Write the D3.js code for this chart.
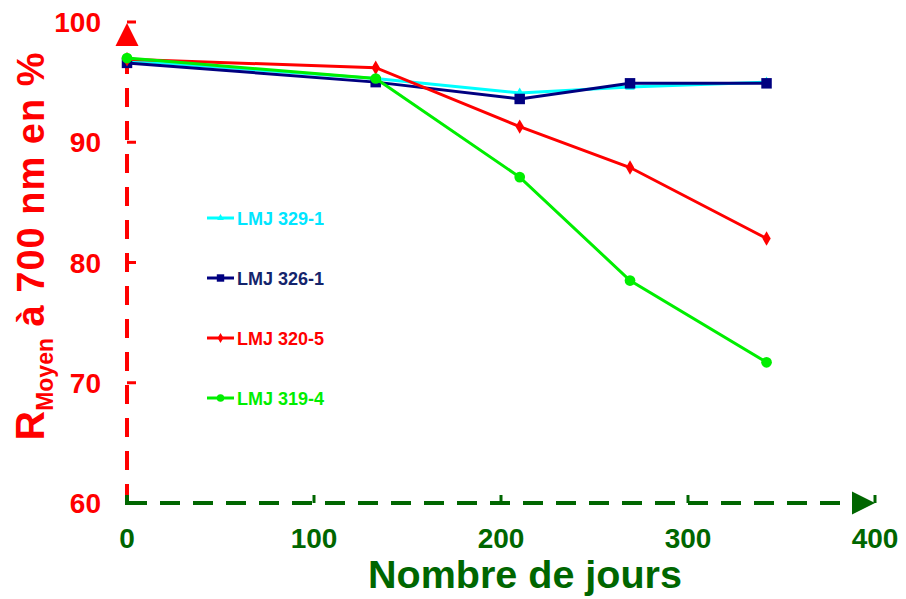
<!DOCTYPE html>
<html>
<head>
<meta charset="utf-8">
<script src="https://cdn.jsdelivr.net/npm/d3@7"></script>
<style>
  body { margin: 0; background: #fff; }
  svg { display: block; font-family: "Liberation Sans", Arial, sans-serif; font-weight: bold; }
</style>
</head>
<body>
<svg id="chart" width="906" height="599"></svg>
<script>
// days of measurement
var days = [0, 133, 210, 269, 342];
// reflectance at 700 nm (%) per sample
var lmj3291 = [96.8, 95.3, 94.1, 94.6, 95.0];
var lmj3261 = [96.6, 95.0, 93.6, 94.9, 94.9];
var lmj3205 = [96.9, 96.2, 91.3, 87.9, 82.0];
var lmj3194 = [97.0, 95.3, 87.1, 78.5, 71.7];
var seriesNames = ['LMJ 329-1', 'LMJ 326-1', 'LMJ 320-5', 'LMJ 319-4'];
var xTicks = [0, 100, 200, 300, 400];
var yTicks = [60, 70, 80, 90, 100];

var series = [
  {name: seriesNames[0], vals: lmj3291, color: '#00ffff', text: '#00e5ff', mark: 'triangle', size: 40},
  {name: seriesNames[1], vals: lmj3261, color: '#000080', text: '#14246c', mark: 'square', size: 110},
  {name: seriesNames[2], vals: lmj3205, color: '#ff0000', text: '#ff0000', mark: 'diamond', size: 60},
  {name: seriesNames[3], vals: lmj3194, color: '#00ee00', text: '#00ee00', mark: 'circle', size: 90}
];

var svg = d3.select('#chart');
var red = '#ff0000', green = '#006600';

var x = d3.scaleLinear().domain([0, 400]).range([127, 875]);
var y = d3.scaleLinear().domain([60, 100]).range([503, 22]);

// y axis (red dashed, arrow on top)
svg.append('line')
  .attr('x1', x(0)).attr('x2', x(0))
  .attr('y1', y(60)).attr('y2', y(100) + 20)
  .attr('stroke', red).attr('stroke-width', 4)
  .attr('stroke-dasharray', '19,14');
svg.selectAll('.ytick').data(yTicks.slice(1)).enter().append('line')
  .attr('x1', x(0)).attr('x2', x(0) + 9)
  .attr('y1', d => y(d)).attr('y2', d => y(d))
  .attr('stroke', red).attr('stroke-width', 3);
svg.append('path')
  .attr('d', 'M' + x(0) + ',' + (y(100) + 1) + ' l-11.5,23 h23 z')
  .attr('fill', red);
svg.selectAll('.ylab').data(yTicks).enter().append('text')
  .attr('x', 101).attr('y', d => y(d) + 10)
  .attr('text-anchor', 'end').attr('font-size', 28).attr('fill', red)
  .text(d => d);

// x axis (green dashed, arrow at right)
svg.append('line')
  .attr('x1', x(0)).attr('x2', x(400) - 22)
  .attr('y1', y(60)).attr('y2', y(60))
  .attr('stroke', green).attr('stroke-width', 4)
  .attr('stroke-dasharray', '20,13');
svg.append('line')
  .attr('x1', x(0)).attr('x2', x(0))
  .attr('y1', y(60) - 8).attr('y2', y(60) + 2)
  .attr('stroke', green).attr('stroke-width', 4);
svg.selectAll('.xtick').data(xTicks.slice(1)).enter().append('line')
  .attr('x1', d => x(d)).attr('x2', d => x(d))
  .attr('y1', y(60) - 8).attr('y2', y(60))
  .attr('stroke', green).attr('stroke-width', 3);
svg.append('path')
  .attr('d', 'M' + x(400) + ',' + y(60) + ' l-23,-11.5 v23 z')
  .attr('fill', green);
svg.selectAll('.xlab').data(xTicks).enter().append('text')
  .attr('x', d => x(d)).attr('y', 548)
  .attr('text-anchor', 'middle').attr('font-size', 28).attr('fill', green)
  .text(d => d);

// axis titles
svg.append('text')
  .attr('x', 525).attr('y', 588)
  .attr('text-anchor', 'middle').attr('font-size', 39.5).attr('fill', green)
  .text('Nombre de jours');

var yt = svg.append('text')
  .attr('transform', 'translate(44,246) rotate(-90)')
  .attr('text-anchor', 'middle').attr('font-size', 38).attr('fill', red);
yt.append('tspan').attr('font-size', 41).text('R');
yt.append('tspan').attr('dy', 9).attr('font-size', 23).text('Moyen');
yt.append('tspan').attr('dy', -9).attr('letter-spacing', 1).text(' à 700 nm en %');

// data lines
var line = d3.line().x((d, i) => x(days[i])).y(d => y(d));
var symbols = {triangle: d3.symbolTriangle, square: d3.symbolSquare, diamond: d3.symbolDiamond, circle: d3.symbolCircle};

series.forEach(function (s) {
  var g = svg.append('g');
  g.append('path').datum(s.vals)
    .attr('d', line).attr('fill', 'none')
    .attr('stroke', s.color).attr('stroke-width', 3);
  g.selectAll('path.m').data(s.vals).enter().append('path')
    .attr('class', 'm')
    .attr('transform', (d, i) => 'translate(' + x(days[i]) + ',' + y(d) + ')')
    .attr('d', d3.symbol().type(symbols[s.mark]).size(s.size))
    .attr('fill', s.color);
});

// legend
var leg = svg.selectAll('.leg').data(series).enter().append('g')
  .attr('transform', (d, i) => 'translate(207,' + (218 + i * 60) + ')');
leg.append('line').attr('x1', 0).attr('x2', 27)
  .attr('stroke', d => d.color).attr('stroke-width', 3);
leg.append('path')
  .attr('transform', 'translate(13.5,0)')
  .attr('d', d => d3.symbol().type(symbols[d.mark]).size(d.size * 0.5)())
  .attr('fill', d => d.color);
leg.append('text').attr('x', 30).attr('y', 6.5)
  .attr('font-size', 18).attr('fill', d => d.text)
  .text(d => d.name);
</script>
</body>
</html>
